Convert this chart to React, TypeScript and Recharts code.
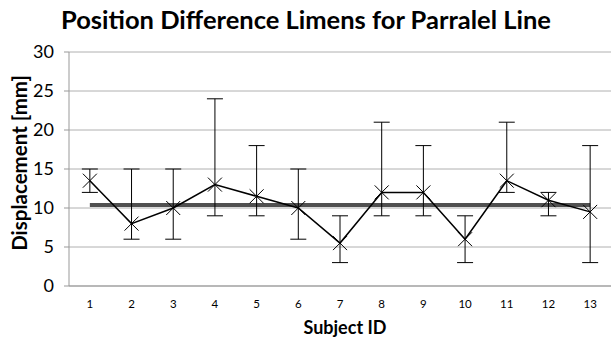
import React from "react"
import { ComposedChart, Line, XAxis, YAxis, CartesianGrid, ErrorBar } from "recharts"

// Subject IDs and per-subject values
const subjectIds = [1, 2, 3, 4, 5, 6, 7, 8, 9, 10, 11, 12, 13]
const limen = [13.5, 8, 10, 13, 11.5, 10, 5.5, 12, 12, 6, 13.5, 11, 9.5]
const errLow = [12, 6, 6, 9, 9, 6, 3, 9, 9, 3, 12, 9, 3]
const errHigh = [15, 15, 15, 24, 18, 15, 9, 21, 18, 9, 21, 12, 18]
const meanLimen = 10.4

const yTicks = [0, 5, 10, 15, 20, 25, 30]
const boundaryTicks = [0.5, 1.5, 2.5, 3.5, 4.5, 5.5, 6.5, 7.5, 8.5, 9.5, 10.5, 11.5, 12.5, 13.5]

const data = subjectIds.map((id, i) => ({
  id,
  value: limen[i],
  mean: meanLimen,
  err: [limen[i] - errLow[i], errHigh[i] - limen[i]],
}))

const FONT = "Lato, 'Open Sans', sans-serif"

// Excel-style "x" marker
const CrossDot = (props: any) => {
  const { cx, cy, index } = props
  if (cx == null || cy == null) return null
  const s = 7
  return (
    <g key={`dot-${index}`}>
      <line x1={cx - s} y1={cy - s} x2={cx + s} y2={cy + s} stroke="#000" strokeWidth={1} />
      <line x1={cx - s} y1={cy + s} x2={cx + s} y2={cy - s} stroke="#000" strokeWidth={1} />
    </g>
  )
}

export default function App() {
  return (
    <div style={{ position: "absolute", left: 0, top: 0, width: 611, height: 339, background: "#fff" }}>
      <ComposedChart
        width={611}
        height={339}
        data={data}
        margin={{ top: 52, right: 0, bottom: 27, left: 0 }}
        style={{ position: "absolute", left: 0, top: 0 }}
      >
        <CartesianGrid vertical={false} stroke="#b0b0b0" strokeWidth={1} />
        <XAxis
          dataKey="id"
          type="number"
          domain={[0.5, 13.5]}
          ticks={boundaryTicks}
          tick={false}
          tickSize={5}
          height={6}
          axisLine={{ stroke: "#999" }}
          tickLine={{ stroke: "#999" }}
          interval={0}
        />
        <XAxis
          xAxisId="labels"
          dataKey="id"
          type="number"
          domain={[0.5, 13.5]}
          ticks={subjectIds}
          interval={0}
          axisLine={false}
          tickLine={false}
          height={20}
          tickMargin={2}
          tick={{ fontSize: 11.5, fill: "#000", fontFamily: FONT }}
        />
        <YAxis
          width={69}
          domain={[0, 30]}
          ticks={yTicks}
          interval={0}
          tickSize={5}
          tickMargin={10}
          axisLine={{ stroke: "#999" }}
          tickLine={{ stroke: "#999" }}
          tick={{ fontSize: 18, fill: "#000", fontFamily: FONT }}
        />
        <Line
          dataKey="mean"
          stroke="#505050"
          strokeWidth={4}
          dot={false}
          activeDot={false}
          isAnimationActive={false}
        />
        <Line
          dataKey="value"
          type="linear"
          stroke="#000"
          strokeWidth={1.5}
          dot={CrossDot}
          activeDot={false}
          isAnimationActive={false}
        >
          <ErrorBar dataKey="err" width={8} stroke="#000" strokeWidth={1} direction="y" />
        </Line>
      </ComposedChart>

      {/* titles */}
      <svg width={611} height={339} style={{ position: "absolute", left: 0, top: 0, pointerEvents: "none" }}>
        <text x={306} y={29} textAnchor="middle" fontFamily={FONT} fontSize={25.5} fontWeight={700} fill="#000">
          Position Difference Limens for Parralel Line
        </text>
        <text
          x={0}
          y={0}
          transform="translate(27 163) rotate(-90)"
          textAnchor="middle"
          fontFamily={FONT}
          fontSize={20.5}
          fontWeight={700}
          fill="#000"
        >
          Displacement [mm]
        </text>
        <text x={345} y={334} textAnchor="middle" fontFamily={FONT} fontSize={18} fontWeight={700} fill="#000">
          Subject ID
        </text>
      </svg>
    </div>
  )
}
